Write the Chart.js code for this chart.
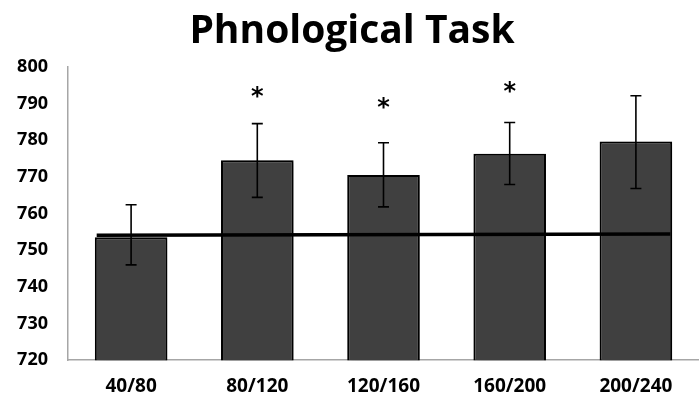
<!DOCTYPE html>
<html>
<head>
<meta charset="utf-8">
<script src="https://cdn.jsdelivr.net/npm/chart.js@4/dist/chart.umd.min.js"></script>
<style>
  body { margin: 0; background: #fff; }
</style>
</head>
<body>
<canvas id="myChart" width="699" height="401"></canvas>
<script>
// data
const labels = ['40/80', '80/120', '120/160', '160/200', '200/240'];
const means = [753.5, 774.5, 770.5, 776.3, 779.6];
const errLow = [746.0, 764.4, 761.8, 767.9, 766.8];
const errHigh = [762.4, 784.5, 779.3, 784.8, 792.1];
const stars = ['', '*', '*', '*', ''];
const starAt = [null, 793.4, 790.5, 794.7, null];
const refLine = [754.1, 754.4];
const yTicks = [720, 730, 740, 750, 760, 770, 780, 790, 800];

const fontFam = "'Open Sans', sans-serif";

// bar shadow
const barShadow = {
  id: 'barShadow',
  beforeDatasetDraw(chart, args) {
    if (args.index !== 0) return;
    const ctx = chart.ctx;
    ctx.save();
    ctx.shadowColor = 'rgba(0,0,0,0.35)';
    ctx.shadowBlur = 5;
    ctx.shadowOffsetX = 3;
    ctx.shadowOffsetY = 1;
  },
  afterDatasetDraw(chart, args) {
    if (args.index !== 0) return;
    chart.ctx.restore();
  }
};

// error bars + asterisks
const errorBars = {
  id: 'errorBars',
  afterDatasetsDraw(chart) {
    const ctx = chart.ctx;
    const x = chart.scales.x;
    const y = chart.scales.y;
    ctx.save();
    ctx.strokeStyle = '#000';
    ctx.lineWidth = 1.6;
    for (let i = 0; i < labels.length; i++) {
      const cx = x.getPixelForValue(i);
      const top = y.getPixelForValue(errHigh[i]);
      const bot = y.getPixelForValue(errLow[i]);
      ctx.beginPath();
      ctx.moveTo(cx, top); ctx.lineTo(cx, bot);
      ctx.moveTo(cx - 5.5, top); ctx.lineTo(cx + 5.5, top);
      ctx.moveTo(cx - 5.5, bot); ctx.lineTo(cx + 5.5, bot);
      ctx.stroke();
      if (stars[i]) {
        ctx.fillStyle = '#000';
        ctx.font = "bold 24px 'DejaVu Sans', sans-serif";
        ctx.textAlign = 'center';
        ctx.textBaseline = 'alphabetic';
        ctx.fillText(stars[i], cx, y.getPixelForValue(starAt[i]) + 13);
      }
    }
    ctx.restore();
  }
};

const ctx1 = document.getElementById('myChart').getContext('2d');
Chart.defaults.font.family = fontFam;

const chart1 = new Chart(ctx1, {
  type: 'bar',
  data: {
    labels: labels,
    datasets: [
      {
        label: 'Phnological Task',
        data: means,
        backgroundColor: '#404040',
        borderColor: '#000',
        borderWidth: 2,
        grouped: false,
        barPercentage: 0.575,
        categoryPercentage: 1,
        order: 2
      },
      {
        type: 'line',
        label: 'baseline',
        data: [{ x: 0, y: refLine[0] }, { x: 1, y: refLine[1] }],
        xAxisID: 'x2',
        borderColor: '#000',
        borderWidth: 3.5,
        pointRadius: 0,
        fill: false,
        order: 1
      }
    ]
  },
  options: {
    responsive: false,
    animation: false,
    layout: { padding: { left: 0, right: -5, top: 0, bottom: -12 } },
    plugins: {
      legend: { display: false },
      tooltip: { enabled: false },
      title: {
        display: true,
        text: 'Phnological Task',
        color: '#000',
        font: { size: 39, weight: 'bold', family: fontFam },
        padding: { top: 8, bottom: 12 }
      }
    },
    scales: {
      x: {
        offset: true,
        grid: { display: false, drawTicks: false },
        border: { display: true, color: '#a6a6a6', width: 1.5 },
        ticks: { color: '#000', padding: 15, font: { size: 19, weight: 'bold' } }
      },
      x2: {
        type: 'linear',
        display: false,
        min: 0,
        max: 1
      },
      y: {
        min: 720,
        max: 800,
        afterBuildTicks(scale) {
          scale.ticks = yTicks.map(v => ({ value: v }));
        },
        afterFit(scale) { scale.width = 68; },
        grid: { display: false, drawTicks: false },
        border: { display: true, color: '#a6a6a6', width: 1.5 },
        ticks: { color: '#000', padding: 20, font: { size: 18, weight: 'bold' } }
      }
    }
  },
  plugins: [barShadow, errorBars]
});
</script>
</body>
</html>
